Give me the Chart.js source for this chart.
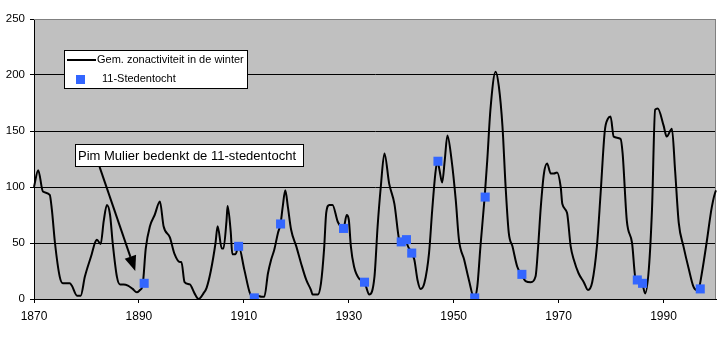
<!DOCTYPE html>
<html>
<head>
<meta charset="utf-8">
<script src="https://cdn.jsdelivr.net/npm/chart.js@4"></script>
<style>
  body { margin: 0; background: #fff; }
  #wrap { width: 728px; height: 337px; }
</style>
</head>
<body>
<div id="wrap"><canvas id="chart" width="728" height="337"></canvas></div>
<script>
// winter sun activity (year, value)
const years = [1870.0,1870.8,1871.7,1873.0,1873.4,1874.0,1874.9,1875.5,1876.8,1877.2,1878.2,1878.9,1879.7,1881.0,1881.6,1882.0,1882.7,1883.3,1883.9,1884.5,1885.0,1885.8,1886.4,1887.1,1887.9,1888.8,1889.6,1890.2,1890.7,1891.3,1892.1,1893.0,1894.0,1894.7,1895.9,1896.8,1897.8,1898.1,1898.7,1899.7,1900.6,1901.4,1902.3,1902.9,1903.7,1904.6,1905.0,1905.8,1906.1,1906.7,1906.9,1907.5,1907.8,1908.4,1909.0,1910.1,1911.1,1911.6,1912.6,1913.4,1913.9,1914.6,1915.2,1915.8,1916.5,1917.0,1917.4,1917.9,1918.4,1919.0,1920.0,1920.9,1921.9,1922.8,1923.1,1924.1,1924.7,1925.3,1925.7,1926.3,1926.9,1927.9,1929.0,1929.6,1930.0,1930.4,1931.0,1932.0,1933.0,1933.3,1933.9,1934.9,1935.5,1936.1,1936.8,1937.7,1938.7,1939.6,1939.9,1940.9,1941.2,1942.0,1942.5,1943.1,1943.7,1944.4,1945.3,1945.9,1946.5,1946.9,1947.3,1947.8,1948.3,1948.8,1949.6,1950.4,1951.0,1952.0,1952.9,1953.9,1954.5,1955.1,1955.9,1956.4,1957.0,1958.0,1958.6,1959.3,1959.9,1960.5,1961.2,1962.1,1962.9,1963.7,1964.7,1965.6,1966.1,1966.6,1967.2,1967.8,1968.5,1969.1,1969.7,1970.4,1970.7,1971.6,1972.3,1972.9,1973.8,1974.8,1975.6,1976.4,1977.3,1978.0,1978.8,1979.4,1979.9,1980.5,1981.8,1982.2,1983.0,1984.0,1984.7,1985.9,1986.5,1987.2,1987.8,1988.4,1988.9,1990.0,1990.6,1991.6,1992.2,1992.9,1993.8,1994.8,1995.7,1996.3,1996.7,1997.3,1998.2,1999.2,2000.0,2000.6];
const activity = [100,115,96,93,80,50,20,14,14,12,3,3,20,40,50,53,49,70,84,75,50,20,13,13,12,9,6,8,12,45,65,75,87,65,55,40,33,33,15,13,5,0,5,10,25,50,65,45,45,70,83,60,40,40,47,26,6,2,3,2,2,23,35,44,59,67,82,97,82,62,47,32,17,8,4,4,14,45,77,84,84,69,63,75,71,47,29,18,15,11,4,20,65,100,130,103,85,53,51,53,48,41,35,17,9,14,41,79,112,123,115,104,124,146,124,88,53,35,17,1,11,47,91,124,169,203,190,154,100,59,47,29,22,16,15,20,47,82,112,121,112,112,113,100,85,77,47,35,23,15,8,15,47,94,150,161,163,145,143,130,70,50,17,14,5,27,80,169,170,155,145,152,115,68,47,27,11,8,9,23,50,82,97,99];

// Elfstedentocht years and the activity at that moment
const tourYears = [1891,1909,1912,1917,1929,1933,1940,1941,1942,1947,1954,1956,1963,1985,1986,1997];
const tourValues = [14,47,1,67,63,15,51,53,41,123,1,91,22,17,14,9];

const xTicks = [1870,1890,1910,1930,1950,1970,1990];
const yTicks = [0,50,100,150,200,250];

const lineLabel = "Gem. zonactiviteit in de winter";
const tourLabel = "11-Stedentocht";
const noteText = "Pim Mulier bedenkt de 11-stedentocht";

const FONT = "'Liberation Sans', Arial, sans-serif";
Chart.defaults.font.family = FONT;
Chart.defaults.color = "#000";

const chartDiv = document.getElementById("chart");

const plotBg = {
  id: "plotBg",
  beforeDraw(chart) {
    const { ctx, chartArea: a } = chart;
    ctx.save();
    ctx.fillStyle = "#c0c0c0";
    ctx.fillRect(a.left, a.top, a.right - a.left, a.bottom - a.top);
    ctx.restore();
  },
  beforeDatasetsDraw(chart) {
    const { ctx, chartArea: a } = chart;
    ctx.save();
    ctx.strokeStyle = "#808080";
    ctx.lineWidth = 1;
    ctx.beginPath();
    ctx.moveTo(a.left, a.top + 0.5);
    ctx.lineTo(a.right - 0.5, a.top + 0.5);
    ctx.lineTo(a.right - 0.5, a.bottom);
    ctx.stroke();
    ctx.restore();
  },
};

const extras = {
  id: "extras",
  afterDraw(chart) {
    const { ctx } = chart;
    const xs = chart.scales.x;
    const ys = chart.scales.y;
    ctx.save();

    // legend box
    ctx.fillStyle = "#fff";
    ctx.fillRect(64, 50, 183, 38);
    ctx.strokeStyle = "#000";
    ctx.lineWidth = 1;
    ctx.strokeRect(64.5, 50.5, 183, 38);
    ctx.beginPath();
    ctx.lineWidth = 2;
    ctx.moveTo(67, 60);
    ctx.lineTo(96, 60);
    ctx.stroke();
    ctx.fillStyle = "#3366ff";
    ctx.fillRect(76, 75, 9, 9);
    ctx.fillStyle = "#000";
    ctx.font = "11px " + FONT;
    ctx.textBaseline = "middle";
    ctx.fillText(lineLabel, 97, 60);
    ctx.fillText(tourLabel, 102, 79);

    // note box
    ctx.font = "13px " + FONT;
    ctx.fillStyle = "#fff";
    ctx.fillRect(75, 144, 228, 22);
    ctx.lineWidth = 1;
    ctx.strokeRect(75.5, 144.5, 228, 22);
    ctx.fillStyle = "#000";
    ctx.fillText(noteText, 78, 156);

    // arrow from note to 1890
    const x0 = xs.getPixelForValue(1882.5), y0 = ys.getPixelForValue(118);
    const x1 = xs.getPixelForValue(1889.3), y1 = ys.getPixelForValue(25);
    const ang = Math.atan2(y1 - y0, x1 - x0);
    const hl = 15, hw = 6;
    const bx = x1 - hl * Math.cos(ang), by = y1 - hl * Math.sin(ang);
    ctx.lineWidth = 2;
    ctx.beginPath();
    ctx.moveTo(x0, y0);
    ctx.lineTo(bx, by);
    ctx.stroke();
    ctx.beginPath();
    ctx.moveTo(x1, y1);
    ctx.lineTo(bx + hw * Math.sin(ang), by - hw * Math.cos(ang));
    ctx.lineTo(bx - hw * Math.sin(ang), by + hw * Math.cos(ang));
    ctx.closePath();
    ctx.fill();
    ctx.restore();
  },
};

new Chart(chartDiv, {
  type: "line",
  data: {
    datasets: [
      {
        label: tourLabel,
        data: tourYears.map((y, i) => ({ x: y, y: tourValues[i] })),
        showLine: false,
        pointStyle: "rect",
        pointRadius: 6.4,
        pointBorderWidth: 0,
        backgroundColor: "#3366ff",
        borderColor: "#3366ff",
        order: 0,
      },
      {
        label: lineLabel,
        data: years.map((y, i) => ({ x: y, y: activity[i] })),
        borderColor: "#000",
        borderWidth: 2,
        pointRadius: 0,
        cubicInterpolationMode: "monotone",
        clip: false,
        order: 1,
      },
    ],
  },
  plugins: [plotBg, extras],
  options: {
    responsive: false,
    animation: false,
    layout: { padding: { top: 19, right: 12, left: 0, bottom: 0 } },
    scales: {
      x: {
        type: "linear",
        min: 1870,
        max: 2000,
        afterBuildTicks: (s) => { s.ticks = xTicks.map((v) => ({ value: v })); },
        afterFit: (s) => { s.height = 38; },
        grid: { drawOnChartArea: false, tickLength: 4, tickColor: "#000" },
        border: { color: "#000" },
        ticks: { font: { size: 12 }, padding: 6, maxRotation: 0, callback: (v) => String(v) },
      },
      y: {
        min: 0,
        max: 250,
        afterBuildTicks: (s) => { s.ticks = yTicks.map((v) => ({ value: v })); },
        afterFit: (s) => { s.width = 34; },
        grid: {
          color: (c) => (c.tick && c.tick.value === 250 ? "#808080" : "#000"),
          tickLength: 4,
          tickColor: "#000",
        },
        border: { color: "#000" },
        ticks: { font: { size: 11.5 }, padding: 5 },
      },
    },
    plugins: {
      legend: { display: false },
      tooltip: { enabled: false },
    },
  },
});
</script>
</body>
</html>
